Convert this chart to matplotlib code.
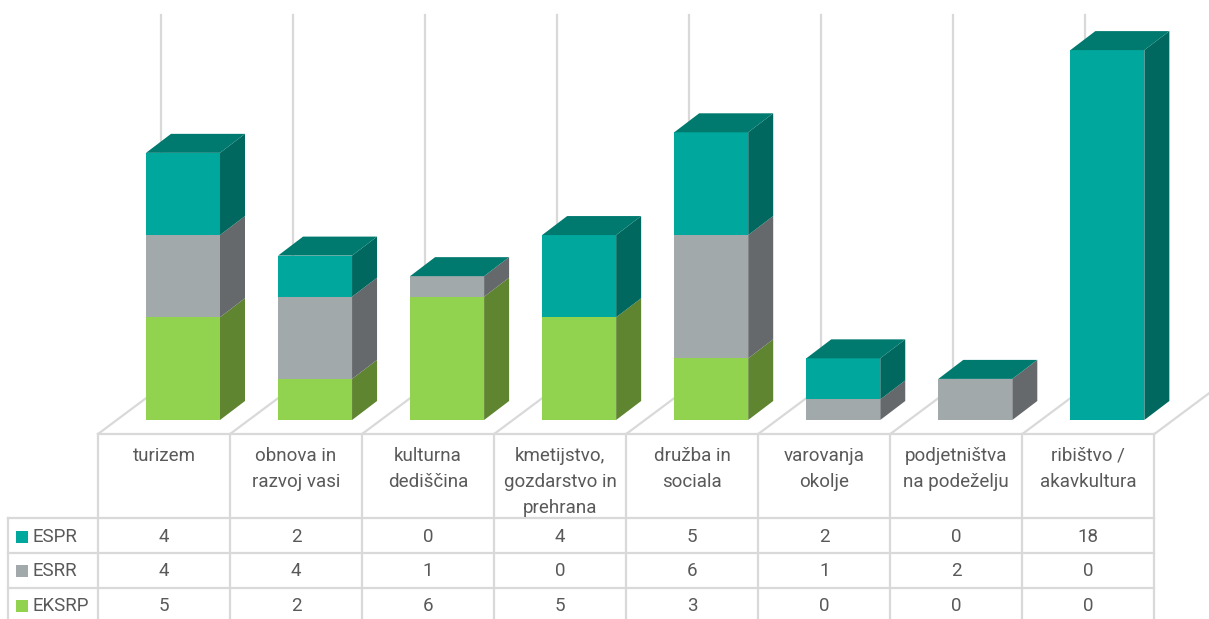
import matplotlib
matplotlib.use('Agg')
import matplotlib.pyplot as plt
import numpy as np

categories = ["turizem", "obnova in\nrazvoj vasi", "kulturna\ndediščina",
              "kmetijstvo,\ngozdarstvo in\nprehrana", "družba in\nsociala",
              "varovanja\nokolje", "podjetništva\nna podeželju", "ribištvo /\nakavkultura"]
series_names = ["ESPR", "ESRR", "EKSRP"]
espr = [4, 2, 0, 4, 5, 2, 0, 18]
esrr = [4, 4, 1, 0, 6, 1, 2, 0]
eksrp = [5, 2, 6, 5, 3, 0, 0, 0]

FRONT = {"ESPR": "#00a79d", "ESRR": "#a1a9ab", "EKSRP": "#91d24e"}
SIDE = {"ESPR": "#00685f", "ESRR": "#65696c", "EKSRP": "#5f8530"}
TOP = "#007a6f"
GRID = "#d9d9d9"
TEXT = "#595959"

plt.rcParams['font.family'] = ['Roboto', 'DejaVu Sans']

W, H = 1209, 619
CELL = 132.05  # px per category
UNIT = 20.55   # px per value unit
X0, Y0 = 98.0, 420.0

fig = plt.figure(figsize=(W / 100, H / 100), dpi=100)
ax = fig.add_axes([0, 0, 1, 1])
# x in category cells, y in chart values, everything else hangs off these
ax.set_xlim(-X0 / CELL, (W - X0) / CELL)
ax.set_ylim((Y0 - H) / UNIT, Y0 / UNIT)
ax.axis('off')


def xp(px):
    return (px - X0) / CELL


def yp(py):
    return (Y0 - py) / UNIT


bar_left = 48 / CELL
bar_w = 74 / CELL
dx = 25 / CELL
dy = 19 / UNIT
lw = 1.6

# back wall and floor lines
for i in range(9):
    ax.plot([i, i + 63 / CELL], [yp(434), yp(387)], color=GRID, lw=lw, zorder=1)
    if i < 8:
        ax.plot([i + 63 / CELL] * 2, [yp(387), yp(15)], color=GRID, lw=lw, zorder=1)

# stacked 3d bars
idx = np.arange(len(categories))
bottom = np.zeros(len(categories))
for name, vals in [("EKSRP", eksrp), ("ESRR", esrr), ("ESPR", espr)]:
    vals = np.array(vals, dtype=float)
    ax.bar(idx + bar_left, vals, bar_w, bottom=bottom, align='edge',
           color=FRONT[name], linewidth=0, zorder=3)
    for i in idx:
        if vals[i] > 0:
            x = i + bar_left + bar_w
            b, t = bottom[i], bottom[i] + vals[i]
            ax.fill([x, x + dx, x + dx, x], [b, b + dy, t + dy, t],
                    color=SIDE[name], linewidth=0, zorder=3)
    bottom += vals

for i in idx:
    x = i + bar_left
    t = bottom[i]
    ax.fill([x, x + bar_w, x + bar_w + dx, x + dx], [t, t, t + dy, t + dy],
            color=TOP, linewidth=0, zorder=3)

# data table
row_lines = [434, 518, 553, 588]
for j, py in enumerate(row_lines):
    ax.plot([xp(98) if j == 0 else xp(8), 8], [yp(py)] * 2, color=GRID, lw=lw, zorder=2)
for i in range(9):
    ax.plot([i, i], [yp(434), yp(619)], color=GRID, lw=lw, zorder=2)
ax.plot([xp(8)] * 2, [yp(518), yp(619)], color=GRID, lw=lw, zorder=2)

for i, cat in enumerate(categories):
    ax.text(i + 0.5, yp(447), cat, ha='center', va='top', fontsize=13.5,
            color=TEXT, linespacing=1.58)

row_y = [536.5, 571, 606]
rows = [espr, esrr, eksrp]
for name, vals, py in zip(series_names, rows, row_y):
    ax.fill([xp(16), xp(28), xp(28), xp(16)],
            [yp(py - 6), yp(py - 6), yp(py + 6), yp(py + 6)],
            color=FRONT[name], linewidth=0, zorder=3)
    ax.text(xp(33), yp(py), name, ha='left', va='center', fontsize=13.5, color=TEXT)
    for i, v in enumerate(vals):
        ax.text(i + 0.5, yp(py), str(v), ha='center', va='center', fontsize=13.5, color=TEXT)

fig.savefig('out.png', dpi=100)
